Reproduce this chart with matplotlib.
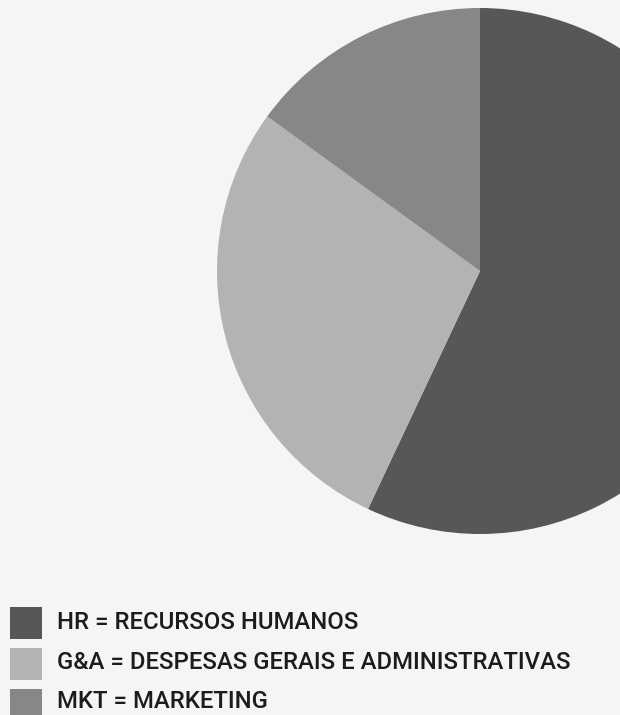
import matplotlib.pyplot as plt
from matplotlib.patches import Rectangle

# slice shares, clockwise from 12 o'clock
categories = ["HR", "G&A", "MKT"]
shares = [57, 28, 15]
colors = ["#575757", "#b3b3b3", "#878787"]
legend_labels = [
    "HR = RECURSOS HUMANOS",
    "G&A = DESPESAS GERAIS E ADMINISTRATIVAS",
    "MKT = MARKETING",
]

W, H = 620, 715
bg = "#f5f5f5"

fig = plt.figure(figsize=(W / 100, H / 100), dpi=100, facecolor=bg)

# pie: centre (480, 271) px, radius 263 px
cx, cy, r = 480, 271, 263
ax = fig.add_axes([(cx - r) / W, (H - cy - r) / H, 2 * r / W, 2 * r / H])
ax.set_facecolor(bg)
ax.pie(shares, colors=colors, startangle=90, counterclock=False, radius=1,
       wedgeprops=dict(linewidth=0))
ax.set_xlim(-1, 1)
ax.set_ylim(-1, 1)
ax.set_aspect("equal")
ax.axis("off")

# legend drawn by hand: swatch tops and text baselines in px from the top
row_top = [607, 648, 689]
baselines = [629, 669, 708]
for top, base, col, label in zip(row_top, baselines, colors, legend_labels):
    fig.patches.append(Rectangle((10 / W, (H - top - 32) / H), 32 / W, 32 / H,
                                 transform=fig.transFigure, facecolor=col,
                                 edgecolor="none"))
    fig.text(57 / W, (H - base) / H, label, fontsize=17.2, family="Roboto",
             fontweight="medium", color="#1c1c1c", va="baseline", ha="left")

fig.savefig("out.png", dpi=100, facecolor=bg)
